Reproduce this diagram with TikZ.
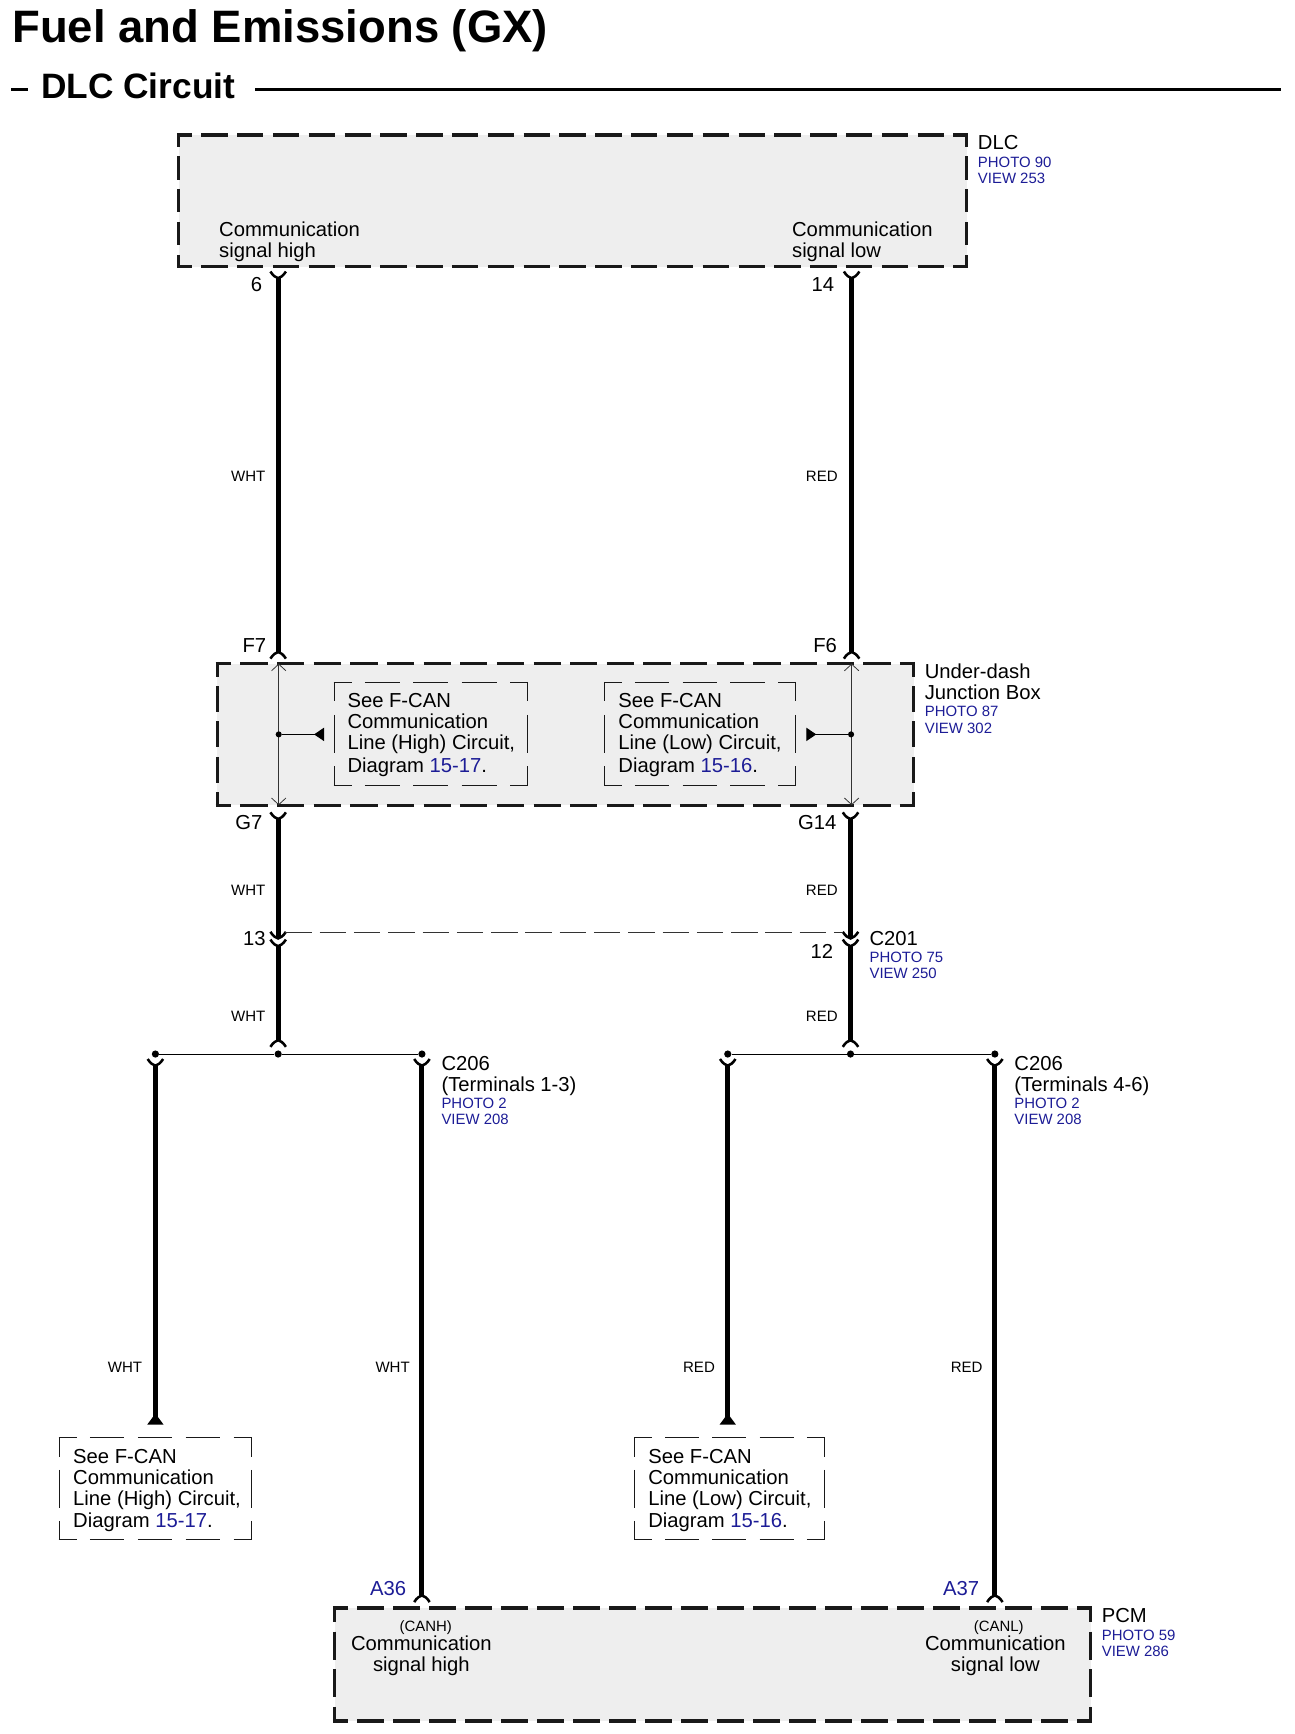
\documentclass[tikz,border=0pt]{standalone}
\usepackage{fontspec}
\setmainfont{Liberation Sans}
\usetikzlibrary{arrows.meta}
\definecolor{refblue}{HTML}{1C1C96}
\definecolor{boxgrey}{HTML}{EEEEEE}
\tikzset{
  lab/.style={anchor=base west,inner sep=0pt,font=\fontsize{18.3}{19}\selectfont},
  ref/.style={anchor=base west,inner sep=0pt,text=refblue,font=\fontsize{13.5}{15}\selectfont},
  pin/.style={anchor=base,inner sep=0pt,font=\fontsize{18.3}{19}\selectfont},
  wirelab/.style={anchor=base,inner sep=0pt,font=\fontsize{13.6}{15}\selectfont},
  blocktext/.style={anchor=north west,inner sep=0pt,align=left,font=\fontsize{18.3}{19}\selectfont},
  centertext/.style={anchor=north,inner sep=0pt,align=center,font=\fontsize{18.3}{19}\selectfont},
  wire/.style={line width=4.6pt,black},
  thinw/.style={line width=.9pt,black},
  dot/.style={circle,fill=black,inner sep=0pt,minimum size=6.5pt},
  pics/cup/.style={code={\draw[line width=2.3pt,black] (-7,-5.5) .. controls (-4.5,-1.5) and (-2,0) .. (0,0.5) .. controls (2,0) and (4.5,-1.5) .. (7,-5.5);}},
  pics/arch/.style={code={\draw[line width=2.3pt,black] (-7,5.5) .. controls (-4.5,1.5) and (-2,0) .. (0,-0.5) .. controls (2,0) and (4.5,1.5) .. (7,5.5);}},
}
% dashed side: start, end, length, nominal period, gap, width, overshoot
\newcommand\dashside[7]{%
  \pgfmathsetmacro\dsper{#3/max(1,round(#3/#4))}%
  \pgfmathsetmacro\dsdash{\dsper-#5}%
  \pgfmathsetmacro\dsphase{\dsdash/2-#7}%
  \draw[line width=#6pt,black!90,dash pattern=on \dsdash pt off #5pt,dash phase=\dsphase pt] #1 -- #2;}
\newcommand\dashrect[7]{% x1 y1 x2 y2 period gap width
  \pgfmathsetmacro\drw{#3-#1}\pgfmathsetmacro\drh{#4-#2}%
  \pgfmathsetmacro\dro{#7/2}%
  \dashside{(#1-\dro,#2)}{(#3+\dro,#2)}{\drw}{#5}{#6}{#7}{\dro}%
  \dashside{(#1-\dro,#4)}{(#3+\dro,#4)}{\drw}{#5}{#6}{#7}{\dro}%
  \dashside{(#1,#2-\dro)}{(#1,#4+\dro)}{\drh}{#5}{#6}{#7}{\dro}%
  \dashside{(#3,#2-\dro)}{(#3,#4+\dro)}{\drh}{#5}{#6}{#7}{\dro}}
\begin{document}
\begin{tikzpicture}[x=1pt,y=-1pt]
\useasboundingbox (0,0) rectangle (1170,1567.8);
% heading
\node[anchor=base west,inner sep=0pt,font=\fontsize{41.1}{43}\bfseries\selectfont] (title) at (11,38) {Fuel and Emissions (GX)};
\node[anchor=base west,inner sep=0pt,font=\fontsize{31.9}{33}\bfseries\selectfont] (sub) at (37,89) {DLC Circuit};
\coordinate (ruleA) at (10,81); \coordinate (ruleB) at (25,81);
\coordinate (ruleC) at (231,81); \coordinate (ruleD) at (1158,81);
\draw[line width=2pt] (ruleA) -- (ruleB);
\draw[line width=2pt] (ruleC) -- (ruleD);
% DLC
\fill[boxgrey] (161.5,122) rectangle (874,241);
\dashrect{161.5}{122}{874}{241}{32.5}{8.5}{3}
\node[lab] (dlcname) at (884,135) {DLC};
\node[ref] (dlcphoto) at (884,151) {PHOTO 90};
\node[ref] (dlcview) at (884,166) {VIEW 253};
\node[blocktext] (dlchigh) at (198,200) {Communication\\signal high};
\node[blocktext] (dlclow) at (716,200) {Communication\\signal low};
% junction box
\fill[boxgrey] (196.5,600) rectangle (826,728);
\dashrect{196.5}{600}{826}{728}{32.5}{8.5}{3}
\node[lab] (jbname) at (836,613.5) {Under-dash};
\node[lab] (jbname2) at (836,632.5) {Junction Box};
\node[ref] (jbphoto) at (836,648) {PHOTO 87};
\node[ref] (jbview) at (836,663) {VIEW 302};
\dashrect{302}{617}{477}{710}{45}{12}{.8}
\dashrect{546.5}{617}{719}{710}{45}{12}{.8}
\node[blocktext] (jbhigh) at (314,627) {See F-CAN\\Communication\\Line (High) Circuit,\\[1.5pt]Diagram \textcolor{refblue}{15-17}.};
\node[blocktext] (jblow) at (559,627) {See F-CAN\\Communication\\Line (Low) Circuit,\\[1.5pt]Diagram \textcolor{refblue}{15-16}.};
% PCM
\fill[boxgrey] (302.5,1454) rectangle (986,1556);
\dashrect{302.5}{1454}{986}{1556}{32.5}{8.5}{3}
\node[lab] (pcmname) at (996,1467) {PCM};
\node[ref] (pcmphoto) at (996,1483) {PHOTO 59};
\node[ref] (pcmview) at (996,1498) {VIEW 286};
\node[anchor=base,inner sep=0pt,font=\fontsize{13.5}{15}\selectfont] (canh) at (385,1475) {(CANH)};
\node[anchor=base,inner sep=0pt,font=\fontsize{13.5}{15}\selectfont] (canl) at (903,1475) {(CANL)};
\node[centertext] (pcmhigh) at (381,1479) {Communication\\signal high};
\node[centertext] (pcmlow) at (900,1479) {Communication\\signal low};
% lower see boxes
\dashrect{53.5}{1300}{227}{1392}{45}{12}{.8}
\dashrect{574}{1300}{745}{1392}{45}{12}{.8}
\node[blocktext] (lowhigh) at (66,1310) {See F-CAN\\Communication\\Line (High) Circuit,\\[1.5pt]Diagram \textcolor{refblue}{15-17}.};
\node[blocktext] (lowlow) at (586,1310) {See F-CAN\\Communication\\Line (Low) Circuit,\\[1.5pt]Diagram \textcolor{refblue}{15-16}.};
% wire points
\coordinate (h1) at (251.5,251); \coordinate (h2) at (251.5,590);
\coordinate (l1) at (770,251); \coordinate (l2) at (770,590);
\coordinate (h3) at (251.5,740); \coordinate (h4) at (251.5,848);
\coordinate (l3) at (769,740); \coordinate (l4) at (769,848);
\coordinate (h5) at (251.5,855); \coordinate (h6) at (251.5,941);
\coordinate (l5) at (769,855); \coordinate (l6) at (769,941);
\coordinate (a1) at (140.5,963); \coordinate (a2) at (140.5,1288);
\coordinate (b1) at (381.5,963); \coordinate (b2) at (381.5,1443);
\coordinate (c1) at (658,963); \coordinate (c2) at (658,1288);
\coordinate (d1) at (899.5,963); \coordinate (d2) at (899.5,1443);
\draw[wire] (h1) -- (h2); \draw[wire] (l1) -- (l2);
\draw[wire] (h3) -- (h4); \draw[wire] (l3) -- (l4);
\draw[wire] (h5) -- (h6); \draw[wire] (l5) -- (l6);
\draw[wire] (b1) -- (b2); \draw[wire] (d1) -- (d2);
\draw[wire,{Triangle[reversed,length=10pt,width=14pt]}-] (a2) -- (a1);
\draw[wire,{Triangle[reversed,length=10pt,width=14pt]}-] (c2) -- (c1);
% connector symbols
\path (h1) pic {cup} (l1) pic {cup} (h3) pic {cup} (l3) pic {cup}
      (h4) pic {cup} (l4) pic {cup} (h5) pic {cup} (l5) pic {cup}
      (a1) pic {cup} (b1) pic {cup} (c1) pic {cup} (d1) pic {cup}
      (h2) pic {arch} (l2) pic {arch} (h6) pic {arch} (l6) pic {arch}
      (b2) pic {arch} (d2) pic {arch};
% junction dots and splices
\node[dot] (sh) at (251.5,953) {}; \node[dot] (sl) at (769,953) {};
\node[dot] (ta) at (140.5,953) {}; \node[dot] (tb) at (381.5,953) {};
\node[dot] (tc) at (658,953) {}; \node[dot] (td) at (899.5,953) {};
\draw[thinw] (ta) -- (sh) -- (tb);
\draw[thinw] (tc) -- (sl) -- (td);
% inside junction box
\coordinate (jh1) at (252,600); \coordinate (jh2) at (252,728);
\coordinate (jl1) at (770,600); \coordinate (jl2) at (770,728);
\draw[line width=.7pt,black!80,{Straight Barb[length=6pt,width=13pt]}-{Straight Barb[length=6pt,width=13pt]}] (jh1) -- (jh2);
\draw[line width=.7pt,black!80,{Straight Barb[length=6pt,width=13pt]}-{Straight Barb[length=6pt,width=13pt]}] (jl1) -- (jl2);
\node[dot,minimum size=5.5pt] (jhd) at (252,664) {};
\node[dot,minimum size=5.5pt] (jld) at (769.5,664) {};
\coordinate (jhe) at (293,664); \coordinate (jle) at (729,664);
\draw[thinw,{Triangle[reversed,length=9pt,width=12pt]}-] (jhe) -- (jhd);
\draw[thinw,{Triangle[reversed,length=9pt,width=12pt]}-] (jle) -- (jld);
% shorting line
\coordinate (sa) at (258,843); \coordinate (sb) at (762,843);
\draw[line width=.7pt,black!80,dash pattern=on 24pt off 7pt] (sa) -- (sb);
% pin labels
\node[pin] (p6) at (232,264) {6};
\node[pin] (p14) at (744,264) {14};
\node[pin] (pf7) at (230,590) {F7};
\node[pin] (pf6) at (746,590) {F6};
\node[pin] (pg7) at (225,750) {G7};
\node[pin] (pg14) at (739,750) {G14};
\node[pin] (p13) at (230,855) {13};
\node[pin] (p12) at (743,867) {12};
\node[pin,text=refblue] (a36) at (351,1443) {A36};
\node[pin,text=refblue] (a37) at (869,1443) {A37};
% colours
\node[wirelab] (w1) at (224.5,435) {WHT};
\node[wirelab] (r1) at (743,435) {RED};
\node[wirelab] (w2) at (224.5,810) {WHT};
\node[wirelab] (r2) at (743,810) {RED};
\node[wirelab] (w3) at (224.5,924) {WHT};
\node[wirelab] (r3) at (743,924) {RED};
\node[wirelab] (w4) at (113,1241) {WHT};
\node[wirelab] (w5) at (355,1241) {WHT};
\node[wirelab] (r4) at (632,1241) {RED};
\node[wirelab] (r5) at (874,1241) {RED};
% connector labels
\node[lab] (c201) at (786,854.5) {C201};
\node[ref] (c201p) at (786,870) {PHOTO 75};
\node[ref] (c201v) at (786,885) {VIEW 250};
\node[lab] (c206a) at (399,967.5) {C206};
\node[lab] (c206at) at (399,987) {(Terminals 1-3)};
\node[ref] (c206ap) at (399,1002) {PHOTO 2};
\node[ref] (c206av) at (399,1017) {VIEW 208};
\node[lab] (c206b) at (917,967.5) {C206};
\node[lab] (c206bt) at (917,987) {(Terminals 4-6)};
\node[ref] (c206bp) at (917,1002) {PHOTO 2};
\node[ref] (c206bv) at (917,1017) {VIEW 208};
\end{tikzpicture}
\end{document}
